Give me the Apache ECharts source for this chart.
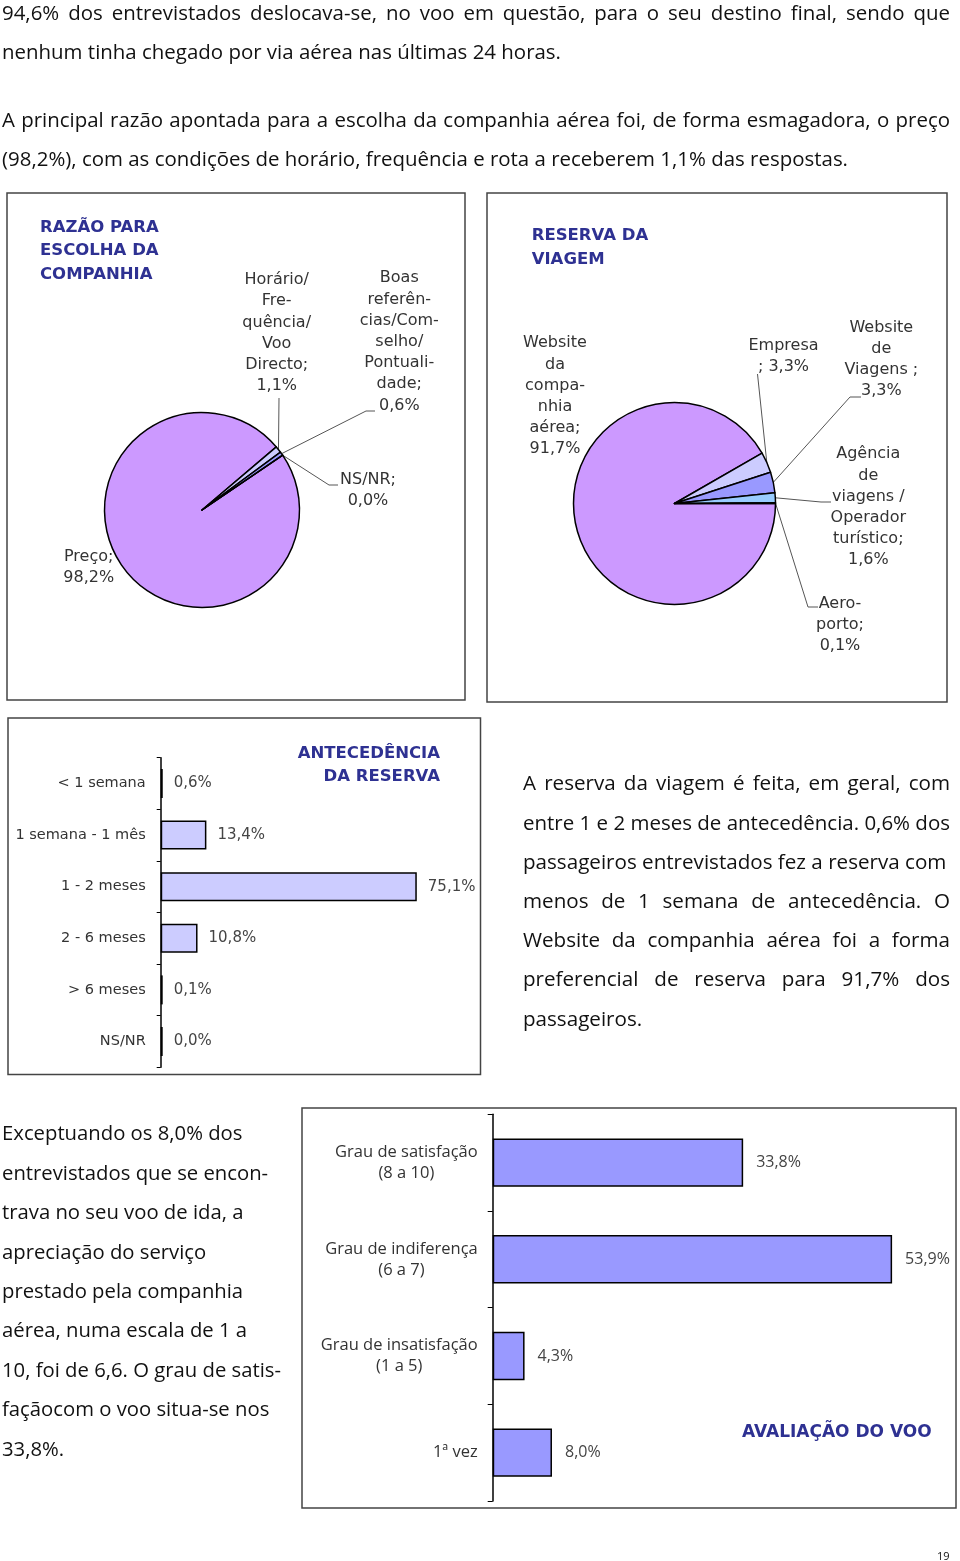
<!DOCTYPE html>
<html><head><meta charset="utf-8">
<script src="https://cdn.jsdelivr.net/npm/echarts@6/dist/echarts.min.js"></script>
<style>
html,body{margin:0;padding:0;background:#fff;}
#page{position:relative;width:960px;height:1561px;overflow:hidden;background:#fff;}
#chart{position:absolute;left:0;top:0;width:960px;height:1561px;}
.ln{position:absolute;white-space:nowrap;font-family:"Open Sans";color:#111;transform-origin:0 50%;}
#pg{position:absolute;left:937px;top:1548px;font-family:"Open Sans";font-size:11px;color:#111;}
</style></head><body>
<div id="page"><div id="chart"></div><div id="pg">19</div></div>
<script>
// ---------- DATA ----------
const reasonCategories = ['Preço', 'Horário/Frequência/Voo Directo', 'Boas referências/Conselho/Pontualidade', 'NS/NR'];
const reasonValues = [98.2, 1.1, 0.6, 0.0];
const reasonLabelText = ['Preço;\n', 'Horário/\nFre-\nquência/\nVoo\nDirecto;\n', 'Boas\nreferên-\ncias/Com-\nselho/\nPontuali-\ndade;\n', 'NS/NR;\n'];

const bookingCategories = ['Website da companhia aérea', 'Empresa', 'Website de Viagens', 'Agência de viagens / Operador turístico', 'Aeroporto'];
const bookingValues = [91.7, 3.3, 3.3, 1.6, 0.1];
const bookingLabelText = ['Website\nda\ncompa-\nnhia\naérea;\n', 'Empresa\n; ', 'Website\nde\nViagens ;\n', 'Agência\nde\nviagens /\nOperador\nturístico;\n', 'Aero-\nporto;\n'];

const advanceCategories = ['< 1 semana', '1 semana - 1 mês', '1 - 2 meses', '2 - 6 meses', '> 6 meses', 'NS/NR'];
const advanceValues = [0.6, 13.4, 75.1, 10.8, 0.1, 0.0];

const ratingCategories = ['Grau de satisfação\n(8 a 10)', 'Grau de indiferença\n(6 a 7)', 'Grau de insatisfação\n(1 a 5)', '1ª vez'];
const ratingValues = [33.8, 53.9, 4.3, 8.0];

const topParagraph = [
  '94,6% dos entrevistados deslocava-se, no voo em questão, para o seu destino final, sendo que',
  'nenhum tinha chegado por via aérea nas últimas 24 horas.',
  'A principal razão apontada para a escolha da companhia aérea foi, de forma esmagadora, o preço',
  '(98,2%), com as condições de horário, frequência e rota a receberem 1,1% das respostas.'
];
const rightParagraph = [
  'A reserva da viagem é feita, em geral, com',
  'entre 1 e 2 meses de antecedência. 0,6% dos',
  'passageiros entrevistados fez a reserva com',
  'menos de 1 semana de antecedência. O',
  'Website da companhia aérea foi a forma',
  'preferencial de reserva para 91,7% dos',
  'passageiros.'
];
const leftParagraph = [
  'Exceptuando os 8,0% dos',
  'entrevistados que se encon-',
  'trava no seu voo de ida, a',
  'apreciação do serviço',
  'prestado pela companhia',
  'aérea, numa escala de 1 a',
  '10, foi de 6,6. O grau de satis-',
  'façãocom o voo situa-se nos',
  '33,8%.'
];

// ---------- TEXT LAYOUT ----------
const page = document.getElementById('page');
function measure(t, fs) {
  const m = document.createElement('span');
  m.style.cssText = 'position:absolute;visibility:hidden;white-space:nowrap;font-family:"Open Sans";font-size:' + fs + 'px';
  m.textContent = t;
  page.appendChild(m);
  const w = m.getBoundingClientRect().width;
  page.removeChild(m);
  return w;
}
function para(lines, o) {
  const k = o.refWidth / measure(lines[o.refIdx], o.fontSize);
  lines.forEach((t, i) => {
    const d = document.createElement('div');
    d.className = 'ln';
    d.textContent = t;
    const cy = o.centers[i];
    d.style.left = o.left + 'px';
    d.style.top = (cy - o.lineH / 2) + 'px';
    d.style.height = o.lineH + 'px';
    d.style.lineHeight = o.lineH + 'px';
    d.style.fontSize = o.fontSize + 'px';
    let kk = k;
    if (o.justify[i]) {
      const w = measure(t, o.fontSize);
      const spaces = (t.match(/ /g) || []).length;
      let extra = (o.width / kk - w) / spaces;
      if (extra < 0) { kk = o.width / w; extra = 0; }
      d.style.wordSpacing = extra + 'px';
    }
    d.style.transform = 'scaleX(' + kk + ')';
    page.appendChild(d);
  });
}
para(topParagraph, {left: 2, fontSize: 20, lineH: 30, width: 948, refIdx: 3, refWidth: 846,
  centers: [13, 52.3, 120, 159.3], justify: [true, false, true, false]});
para(rightParagraph, {left: 523, fontSize: 20, lineH: 30, width: 427, refIdx: 2, refWidth: 423.4,
  centers: [783.3, 822.5, 861.7, 900.9, 940.1, 979.3, 1018.5], justify: [true, true, false, true, true, true, false]});
para(leftParagraph, {left: 2, fontSize: 20, lineH: 30, width: 280, refIdx: 6, refWidth: 279,
  centers: [1133.3, 1172.7, 1212.1, 1251.5, 1290.9, 1330.3, 1369.7, 1409.1, 1448.5], justify: [false,false,false,false,false,false,false,false,false]});

// ---------- CHART ----------
const fmt = v => v.toFixed(1).replace('.', ',') + '%';
const navy = '#2e3192';
const labelFont = 'DejaVu Sans';

const pie1Colors = ['#cc99ff', '#ccccff', '#9999ff', '#99ccff'];
const pie2Colors = ['#cc99ff', '#ccccff', '#9999ff', '#99ccff', '#3366ff'];
const pie1LabelPos = [[88.7, 546], [276.7, 269.4], [399.3, 267.7], [368, 469.4]];
const pie1LinePts = [null, [[279, 398], [279, 398]], [[366, 411], [375, 411]], [[329, 485], [338, 485]]];
const pie2LabelPos = [[555, 332.7], [783.5, 335], [881.3, 317], [868.3, 443.7], [840, 593]];
const pie2LinePts = [null, [[757.5, 374], [757.5, 374]], [[850, 397], [861, 397]], [[821, 502], [831, 502]], [[808, 607], [818, 607]]];

function makeLayout(posArr, lineArr) {
  return function (p) {
    const i = p.dataIndex;
    const r = {x: posArr[i][0], y: posArr[i][1], align: 'center', verticalAlign: 'top'};
    if (lineArr[i] && p.labelLinePoints) {
      r.labelLinePoints = [p.labelLinePoints[0].slice(), lineArr[i][0].slice(), lineArr[i][1].slice()];
    }
    return r;
  };
}

function pieSeries(cats, vals, colors, texts, center, radius, startAngle, posArr, lineArr) {
  return {
    type: 'pie', center: center, radius: radius, startAngle: startAngle, clockwise: true,
    avoidLabelOverlap: false, silent: true, animation: false,
    itemStyle: {borderColor: '#000', borderWidth: 1.5},
    label: {show: true, position: 'outside', formatter: p => texts[p.dataIndex] + fmt(p.value),
      fontFamily: labelFont, fontSize: 16, lineHeight: 21.2, color: '#333', align: 'center'},
    labelLine: {show: true, length: 10, length2: 10, lineStyle: {color: '#555', width: 1}},
    labelLayout: makeLayout(posArr, lineArr),
    data: vals.map((v, i) => ({name: cats[i], value: v, itemStyle: {color: colors[i]}, labelLine: {show: !!lineArr[i]}}))
  };
}

const titleText = (x, y, text, align, lh, fs) => ({
  type: 'text', x: x, y: y, silent: true,
  style: {text: text, fill: navy, fontFamily: labelFont, fontWeight: 'bold', fontSize: fs || 16.5, lineHeight: lh,
    align: align, textAlign: align, verticalAlign: 'top', textVerticalAlign: 'top'}
});
const frame = (x, y, w, h) => ({type: 'rect', silent: true, shape: {x: x, y: y, width: w, height: h},
  style: {fill: 'none', stroke: '#444', lineWidth: 1.5}});

const option = {
  animation: false,
  graphic: {elements: [
    frame(7, 193, 458, 507),
    frame(487, 193, 460, 509),
    frame(8, 718, 472.5, 356.5),
    frame(302, 1108, 654, 400),
    titleText(40, 215.5, 'RAZÃO PARA\nESCOLHA DA\nCOMPANHIA', 'left', 23.8),
    titleText(531.7, 223.9, 'RESERVA DA\nVIAGEM', 'left', 23.6),
    titleText(440, 741.6, 'ANTECEDÊNCIA\nDA RESERVA', 'right', 23.4),
    titleText(742, 1421.3, 'AVALIAÇÃO DO VOO', 'left', 23.4, 17)
  ]},
  grid: [
    {left: 160.7, top: 757.7, width: 341, height: 309.6, outerBoundsMode: 'none', containLabel: false},
    {left: 492.7, top: 1114.3, width: 444.6, height: 386.7, outerBoundsMode: 'none', containLabel: false}
  ],
  xAxis: [
    {gridIndex: 0, type: 'value', min: 0, max: 100, show: false},
    {gridIndex: 1, type: 'value', min: 0, max: 60, show: false}
  ],
  yAxis: [
    {gridIndex: 0, type: 'category', data: advanceCategories, inverse: true,
      axisLine: {show: true, lineStyle: {color: '#000', width: 1.5}},
      axisTick: {show: true, length: 4, lineStyle: {color: '#000', width: 1}},
      splitLine: {show: false},
      axisLabel: {margin: 15, fontFamily: labelFont, fontSize: 14.5, color: '#333'}},
    {gridIndex: 1, type: 'category', data: ratingCategories, inverse: true,
      axisLine: {show: true, lineStyle: {color: '#000', width: 1.5}},
      axisTick: {show: true, length: 5, lineStyle: {color: '#000', width: 1}},
      splitLine: {show: false},
      axisLabel: {margin: 15, color: '#333',
        formatter: v => v.split('\n').map(s => '{c|' + s + '}').join('\n'),
        rich: {c: {align: 'center', fontFamily: 'Open Sans', fontSize: 16.5, lineHeight: 21, color: '#333'}}}}
  ],
  series: [
    pieSeries(reasonCategories, reasonValues, pie1Colors, reasonLabelText, [202, 510], 97.5, 34.2, pie1LabelPos, pie1LinePts),
    pieSeries(bookingCategories, bookingValues, pie2Colors, bookingLabelText, [674.5, 503.5], 101, 0, pie2LabelPos, pie2LinePts),
    {type: 'bar', xAxisIndex: 0, yAxisIndex: 0, data: advanceValues, barWidth: 29, barMinHeight: 2, silent: true,
      itemStyle: {color: '#ccccff', borderColor: '#000', borderWidth: 1.5},
      label: {show: true, position: 'right', distance: 11, formatter: p => fmt(p.value),
        fontFamily: labelFont, fontSize: 15, color: '#444'}},
    {type: 'bar', xAxisIndex: 1, yAxisIndex: 1, data: ratingValues, barWidth: 48.4, silent: true,
      itemStyle: {color: '#9999ff', borderColor: '#000', borderWidth: 1.5},
      label: {show: true, position: 'right', distance: 13, formatter: p => fmt(p.value),
        fontFamily: 'Open Sans', fontSize: 16, color: '#444'}}
  ]
};
const chart = echarts.init(document.getElementById('chart'), null, {renderer: 'canvas'});
chart.setOption(option);
</script>
</body></html>
